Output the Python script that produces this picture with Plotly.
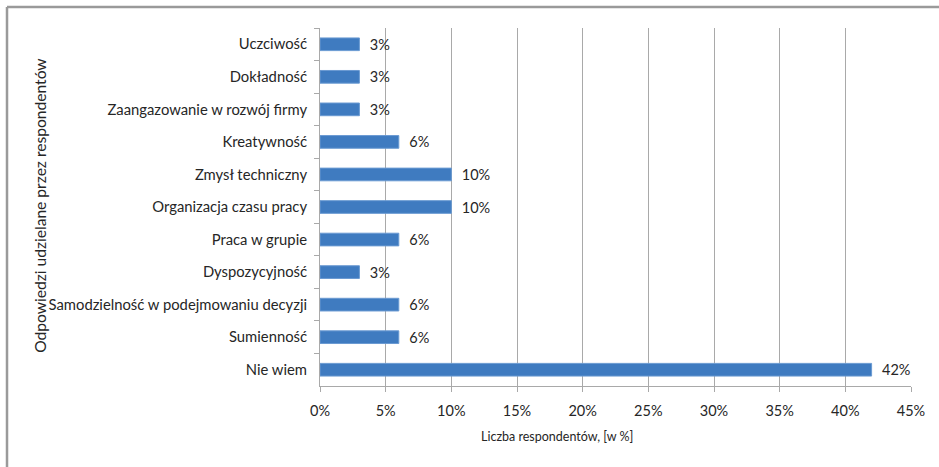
import plotly.graph_objects as go

categories = [
    "Uczciwość",
    "Dokładność",
    "Zaangazowanie w rozwój firmy",
    "Kreatywność",
    "Zmysł techniczny",
    "Organizacja czasu pracy",
    "Praca w grupie",
    "Dyspozycyjność",
    "Samodzielność w podejmowaniu decyzji",
    "Sumienność",
    "Nie wiem",
]
values = [0.03, 0.03, 0.03, 0.06, 0.10, 0.10, 0.06, 0.03, 0.06, 0.06, 0.42]
labels = [f"  {round(v*100)}%" for v in values]
x_ticks = [0, 0.05, 0.10, 0.15, 0.20, 0.25, 0.30, 0.35, 0.40, 0.45]

FONT = "Lato, 'Open Sans', sans-serif"
GRID = "#a9a9a9"
TXT = "#262626"

fig = go.Figure(go.Bar(
    x=values, y=categories, orientation="h",
    marker=dict(color="#3f7bc0", line=dict(color="#6a9ad2", width=1)),
    text=labels, textposition="outside", cliponaxis=False,
    constraintext="none",
    textfont=dict(family=FONT, size=14.5, color=TXT),
))

fig.update_layout(
    width=939, height=467,
    margin=dict(l=320, r=28, t=28, b=81),
    paper_bgcolor="white", plot_bgcolor="white",
    bargap=0.61, showlegend=False,
    font=dict(family=FONT, size=14.8, color=TXT),
    xaxis=dict(
        range=[0, 0.45], tickvals=x_ticks, tickformat=".0%",
        showgrid=True, gridcolor=GRID, gridwidth=1,
        showline=True, linecolor=GRID, linewidth=1,
        ticks="outside", ticklen=5, tickcolor=GRID,
        zeroline=False, tickfont=dict(size=14.5, color=TXT),
        ticklabelstandoff=7,
    ),
    yaxis=dict(
        autorange="reversed", type="category",
        showline=True, linecolor=GRID, linewidth=1,
        ticks="outside", ticklen=5, tickcolor=GRID, tickson="boundaries",
        showgrid=False, tickfont=dict(size=14.8, color=TXT),
        ticklabelstandoff=9,
    ),
    annotations=[
        dict(text="Odpowiedzi udzielane przez respondentów", textangle=-90,
             xref="paper", yref="paper", x=-0.474, y=0.503,
             showarrow=False, font=dict(size=15.6, color=TXT),
             xanchor="center", yanchor="middle"),
        dict(text="Liczba respondentów, [w %]",
             xref="paper", yref="paper", x=0.401, y=-0.1415,
             showarrow=False, font=dict(size=12.5, color=TXT),
             xanchor="center", yanchor="middle"),
    ],
    shapes=[
        dict(type="line", xref="paper", yref="paper",
             x0=-0.5296, x1=-0.5296, y0=-0.23, y1=1.0586,
             line=dict(color="#9a9a9a", width=2.5)),
        dict(type="line", xref="paper", yref="paper",
             x0=-0.5296, x1=1.05, y0=1.0586, y1=1.0586,
             line=dict(color="#9a9a9a", width=2.5)),
    ],
)

fig.write_html("out.html")
